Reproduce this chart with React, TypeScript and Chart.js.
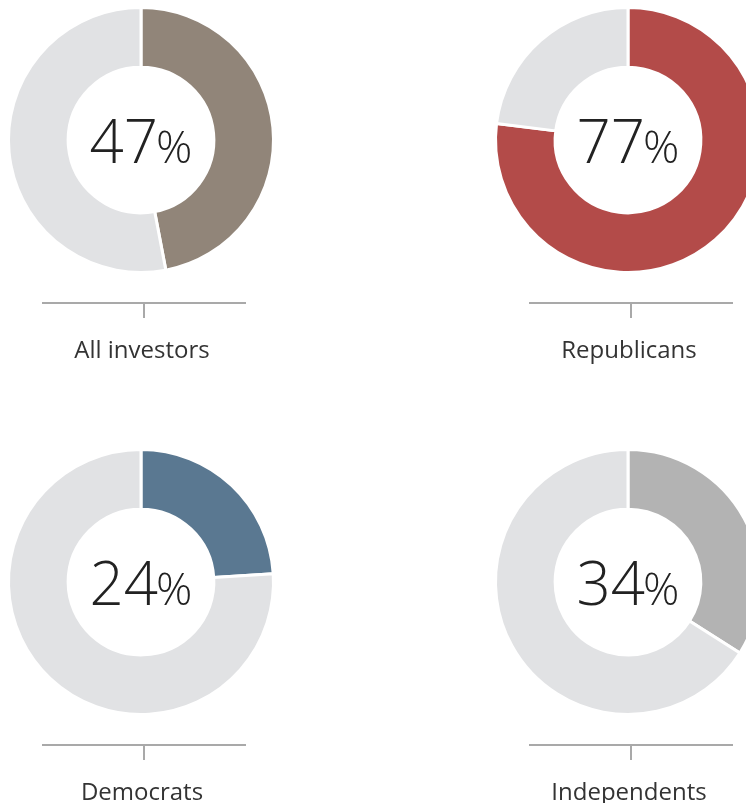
import React, { useEffect, useRef } from "react";
import { Chart, registerables } from "chart.js";

Chart.register(...registerables);

const categories = ["All investors", "Republicans", "Democrats", "Independents"];
const shareValues = [47, 77, 24, 34];
const sliceColors = ["#918579", "#b34b49", "#5a7891", "#b3b3b3"];
const restColor = "#e1e2e4";

const FONT = "'Open Sans', 'Noto Sans', sans-serif";

const overlayPlugin = {
  id: "overlay",
  afterDraw(chart: any) {
    const ctx = chart.ctx;
    const arc = chart.getDatasetMeta(0).data[0];
    if (!arc) return;
    const cx = arc.x;
    const cy = arc.y;
    const o = chart.options.plugins.overlay;
    ctx.save();
    // center value
    ctx.fillStyle = "#222222";
    ctx.textBaseline = "alphabetic";
    const numText = String(o.value);
    ctx.font = `300 60px ${FONT}`;
    const nw = ctx.measureText(numText).width;
    ctx.font = `300 45px ${FONT}`;
    const pw = ctx.measureText("%").width;
    const startX = cx - (nw + pw - 2) / 2;
    ctx.font = `300 60px ${FONT}`;
    ctx.textAlign = "left";
    ctx.fillText(numText, startX, cy + 23);
    ctx.font = `300 45px ${FONT}`;
    ctx.fillText("%", startX + nw - 2, cy + 23);
    // axis line + tick
    ctx.strokeStyle = "#a9a9a9";
    ctx.lineWidth = 2;
    ctx.beginPath();
    ctx.moveTo(cx - 99, cy + 163);
    ctx.lineTo(cx + 105, cy + 163);
    ctx.moveTo(cx + 3, cy + 163);
    ctx.lineTo(cx + 3, cy + 178);
    ctx.stroke();
    // label
    ctx.fillStyle = "#333333";
    ctx.font = `400 24px ${FONT}`;
    ctx.textAlign = "center";
    ctx.fillText(o.label, cx + 1, cy + 218);
    ctx.restore();
  },
};

function Donut({ idx, left, top }: { idx: number; left: number; top: number }) {
  const ref = useRef<HTMLCanvasElement>(null);
  useEffect(() => {
    const v = shareValues[idx];
    const chart = new Chart(ref.current!, {
      type: "doughnut",
      data: {
        labels: [categories[idx], "Other"],
        datasets: [
          {
            data: [v, 100 - v],
            backgroundColor: [sliceColors[idx], restColor],
            borderColor: "#ffffff",
            borderWidth: 3,
          },
        ],
      },
      options: {
        animation: false,
        responsive: false,
        cutout: "55%",
        layout: { padding: { left: 7, right: 7, top: 6, bottom: 106 } },
        plugins: {
          legend: { display: false },
          tooltip: { enabled: false },
          overlay: { value: v, label: categories[idx] },
        } as any,
      },
      plugins: [overlayPlugin],
    });
    return () => chart.destroy();
  }, [idx]);
  return (
    <canvas
      ref={ref}
      width={282}
      height={380}
      style={{ position: "absolute", left, top, width: 282, height: 380 }}
    />
  );
}

export default function App() {
  useEffect(() => {
    document.body.style.margin = "0";
    document.body.style.overflow = "hidden";
  }, []);
  return (
    <div
      style={{
        position: "relative",
        width: 746,
        height: 803,
        overflow: "hidden",
        background: "#ffffff",
      }}
    >
      <Donut idx={0} left={0} top={0} />
      <Donut idx={1} left={487} top={0} />
      <Donut idx={2} left={0} top={442} />
      <Donut idx={3} left={487} top={442} />
    </div>
  );
}
